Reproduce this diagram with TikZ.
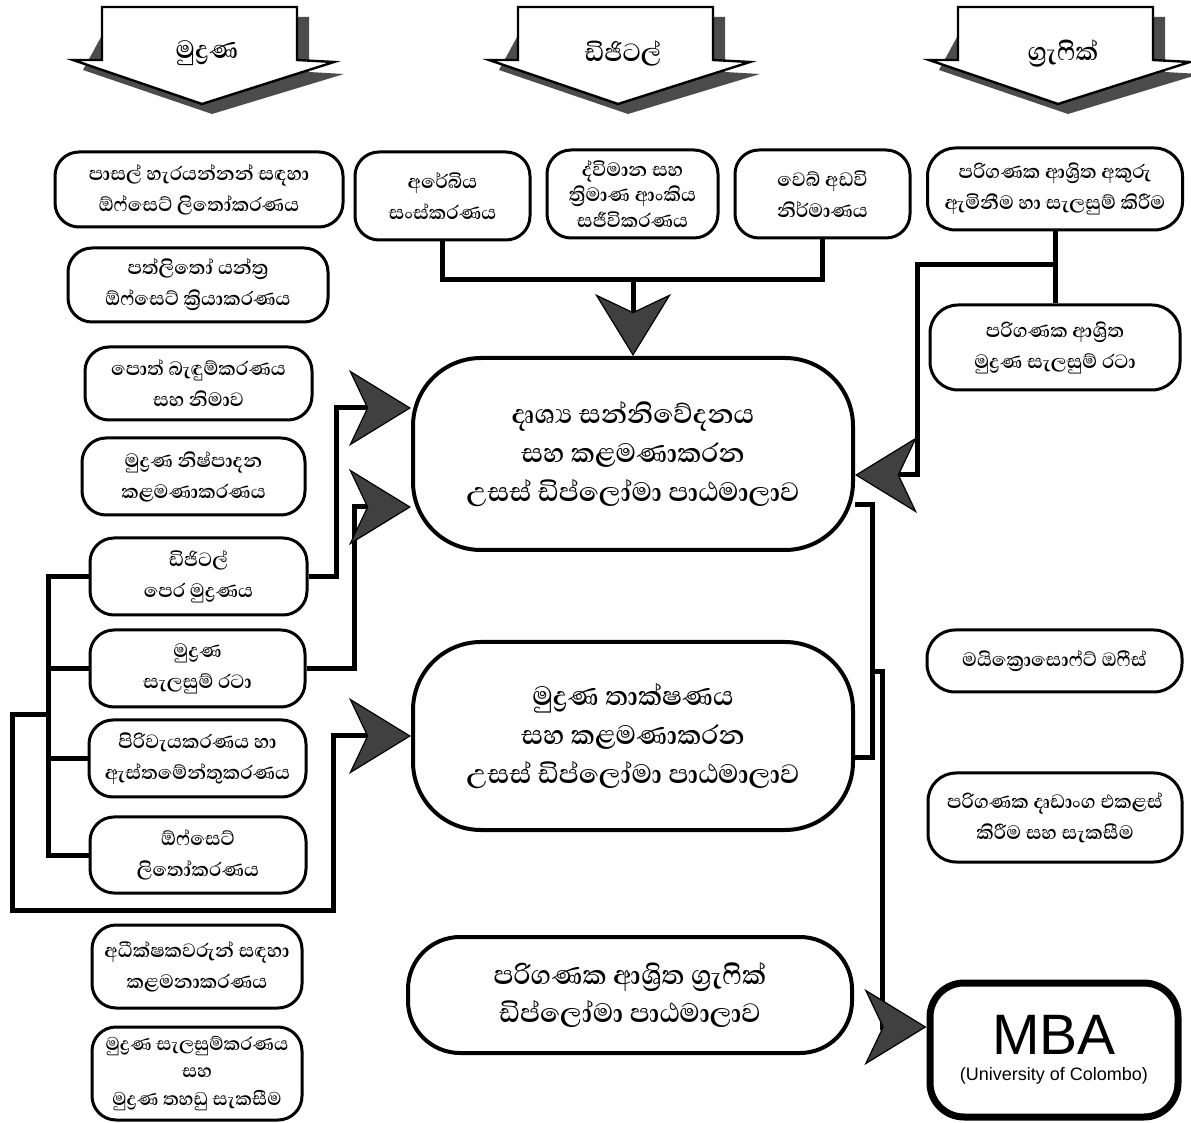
\documentclass[tikz,border=0pt]{standalone}
\usepackage{fontspec}
\usepackage{tikz}
\usetikzlibrary{arrows.meta}
\newfontfamily\sinhala[Script=Sinhala]{Abhaya Libre}
\setsansfont{Liberation Sans}
\newcommand{\zj}{^^^^200d}

\tikzset{
  box/.style={draw, line width=1.5pt, rounded corners=12pt, align=center, inner sep=0pt,
    font=\sinhala\bfseries\fontsize{12.3}{15.5}\selectfont},
  bigbox/.style={box, line width=2pt, rounded corners=34pt,
    font=\sinhala\bfseries\fontsize{17}{19.3}\selectfont},
  mbabox/.style={draw, line width=3.5pt, rounded corners=17pt, align=center, inner sep=0pt,
    font=\sffamily\fontsize{28.5}{13}\selectfont},
  boxsize/.style 2 args={minimum width=#1*0.5pt, minimum height=#2*0.5pt},
  toplbl/.style={font=\sinhala\bfseries\fontsize{16}{18}\selectfont},
  conn/.style={line width=2.5pt},
  bigtip/.tip={Stealth[length=31pt, width=38pt, inset=9pt, line width=0.6pt, fill=black!75]}
}

\begin{document}
\begin{tikzpicture}[x=0.5pt, y=-0.5pt]
  \useasboundingbox (0,0) rectangle (1191,1123);

  % the three big arrows on top
  \foreach \bx/\nm/\lbl in {102/print/{මුද්\zj රණ}, 518/digi/{ඩිජිටල්}, 958/graph/{ග්\zj රැෆික්}}{
    \fill[black!70] (\bx+10,17) -- (\bx+207,17) -- (\bx+207,72) -- (\bx+242,74)
      -- (\bx+110,114) -- (\bx-19,70) -- cycle;
    \draw[fill=white, line width=1.2pt] (\bx,7) -- (\bx+195,7) -- (\bx+195,60) -- (\bx+232,62)
      -- (\bx+100,104) -- (\bx-29,60) -- (\bx,60) -- cycle;
    \node[toplbl] (\nm) at (\bx+105,53) {\lbl};
  }

  % print column
  \node[box, boxsize={288}{75}] (b1) at (199,189.5) {පාසල් හැරයන්නන් සඳහා\\ඕෆ්සෙට් ලිතෝකරණය};
  \node[box, boxsize={260}{74}] (b2) at (198,285) {පත්ලිතෝ යන්ත්\zj ර\\ඕෆ්සෙට් ක්\zj රියාකරණය};
  \node[box, boxsize={227}{73}] (b3) at (198.5,383.5) {පොත් බැඳුම්කරණය\\සහ නිමාව};
  \node[box, boxsize={223}{77}] (b4) at (193.5,476.5) {මුද්\zj රණ නිෂ්පාදන\\කළමණාකරණය};
  \node[box, boxsize={217}{77}] (b5) at (198.5,576.5) {ඩිජිටල්\\පෙර මුද්\zj රණය};
  \node[box, boxsize={215}{77}] (b6) at (197.5,668.5) {මුද්\zj රණ\\සැලසුම් රටා};
  \node[box, boxsize={217}{77}] (b7) at (197.5,758.5) {පිරිවැයකරණය හා\\ඇස්තමේන්තුකරණය};
  \node[box, boxsize={216}{76}] (b8) at (198,855) {ඕෆ්සෙට්\\ලිතෝකරණය};
  \node[box, boxsize={210}{83}] (b9) at (197,966.5) {අධීක්ෂකවරුන් සඳහා\\කළමනාකරණය};
  \node[box, boxsize={210}{93}, font=\sinhala\bfseries\fontsize{11.8}{13.8}\selectfont] (b10) at (197,1073.5)
    {මුද්\zj රණ සැලසුම්කරණය\\සහ\\මුද්\zj රණ තහඩු සැකසීම};

  % digital row
  \node[box, boxsize={175}{88}] (d1) at (442.5,196) {අරේබිය\\සංස්කරණය};
  \node[box, boxsize={171}{88}, font=\sinhala\bfseries\fontsize{12.3}{12.6}\selectfont] (d2) at (632.5,194)
    {ද්විමාන සහ\\ත්\zj රිමාණ ආංකිය\\සජීවිකරණය};
  \node[box, boxsize={175}{88}] (d3) at (822.5,194) {වෙබ් අඩවි\\නිර්මාණය};

  % graphics column
  \node[box, boxsize={255}{82}, rounded corners=14pt] (g1) at (1055,189) {පරිගණක ආශ්\zj රිත අකුරු\\ඇමිනීම හා සැලසුම් කිරීම};
  \node[box, boxsize={250}{85}, rounded corners=14pt] (g2) at (1055,347.5) {පරිගණක ආශ්\zj රිත\\මුද්\zj රණ සැලසුම් රටා};
  \node[box, boxsize={255}{62}, rounded corners=14pt] (g3) at (1054.5,661) {මයික්\zj රොසොෆ්ට් ඔෆීස්};
  \node[box, boxsize={254}{89}, rounded corners=14pt] (g4) at (1055,817.5) {පරිගණක දෘඩාංග එකළස්\\කිරීම සහ සැකසීම};

  % courses
  \node[bigbox, boxsize={440}{192}] (m1) at (633,454) {දෘශ්\zj ය සන්නිවේදනය\\සහ කළමණාකරන\\උසස් ඩිප්ලෝමා පාඨමාලාව};
  \node[bigbox, boxsize={440}{188}] (m2) at (633,736) {මුද්\zj රණ තාක්ෂණය\\සහ කළමණාකරන\\උසස් ඩිප්ලෝමා පාඨමාලාව};
  \node[bigbox, boxsize={444}{116}, rounded corners=26pt] (m3) at (630,995) {පරිගණක ආශ්\zj රිත ග්\zj රැෆික්\\ඩිප්ලෝමා පාඨමාලාව};
  \node[mbabox, boxsize={248}{134}] (mba) at (1054,1050) {MBA\\{\fontsize{9}{11}\selectfont (University of Colombo)}};

  % left bus
  \coordinate (bus) at (48,0);
  \draw[conn] (b5.west) -- (b5.west -| bus) |- (b8.west);
  \draw[conn] (b6.west) -- (b6.west -| bus);
  \draw[conn] (b7.west) -- (b7.west -| bus);
  \draw[conn, -{bigtip}] (bus |- 0,715) -- (12,715) |- (333,910) |- (m2.west);
  \draw[conn, -{bigtip}] (b5.east) -- ++(28,0) |- ([yshift=23pt]m1.west);
  \draw[conn, -{bigtip}] (b6.east) -- ++(48,0) |- ([yshift=-26.5pt]m1.west);

  % top row into m1
  \draw[conn] (d1.south) -- ++(0,38) -| (d3.south);
  \draw[conn, -{bigtip}] (m1.north |- 0,278) -- (m1.north);

  % right side
  \draw[conn] (g1.south) -- (g2.north);
  \draw[conn, -{bigtip}] (g1.south |- 0,265) -- (917,265) |- ([yshift=-10.5pt]m1.east);
  \draw[conn] ([yshift=-25.5pt]m1.east) -- ++(17,0) |- ([yshift=-11pt]m2.east);
  \draw[conn, -{bigtip}] (870,672) -- (882,672) |- ([yshift=11.5pt]mba.west);
\end{tikzpicture}
\end{document}
